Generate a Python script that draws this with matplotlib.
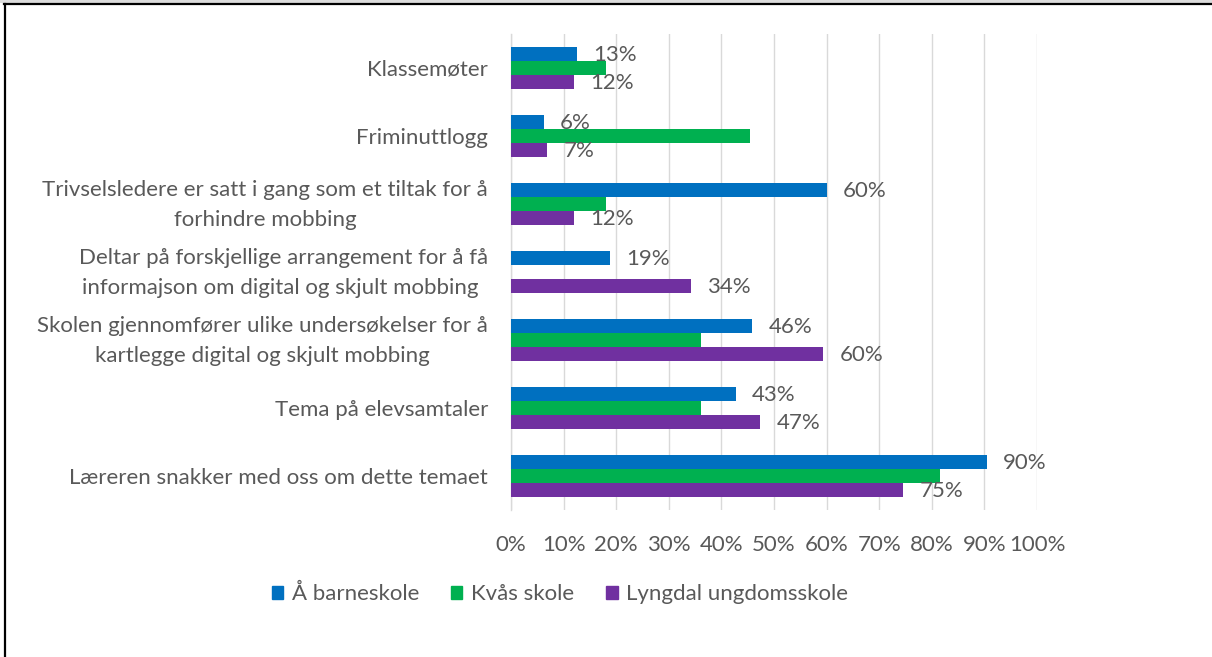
import matplotlib
matplotlib.use("Agg")
import matplotlib.pyplot as plt
from matplotlib.lines import Line2D
from matplotlib.patches import Rectangle
import numpy as np

categories = [
    "Klassemøter",
    "Friminuttlogg",
    "Trivselsledere er satt i gang som et tiltak for å\nforhindre mobbing",
    "Deltar på forskjellige arrangement for å få\ninformajson om digital og skjult mobbing ",
    "Skolen gjennomfører ulike undersøkelser for å\nkartlegge digital og skjult mobbing",
    "Tema på elevsamtaler",
    "Læreren snakker med oss om dette temaet",
]
series_names = ["Å barneskole", "Kvås skole", "Lyngdal ungdomsskole"]
aa_barneskole = [0.125, 0.062, 0.601, 0.188, 0.459, 0.427, 0.905]
kvaas_skole = [0.181, 0.454, 0.181, 0.0, 0.361, 0.361, 0.816]
lyngdal = [0.12, 0.069, 0.12, 0.342, 0.594, 0.474, 0.746]
aa_labels = ["13%", "6%", "60%", "19%", "46%", "43%", "90%"]
lyngdal_labels = ["12%", "7%", "12%", "34%", "60%", "47%", "75%"]
xticks = [0, 0.1, 0.2, 0.3, 0.4, 0.5, 0.6, 0.7, 0.8, 0.9, 1.0]
xtick_labels = ["0%", "10%", "20%", "30%", "40%", "50%", "60%", "70%", "80%", "90%", "100%"]

colors = ["#0070C0", "#00B050", "#7030A0"]
text_color = "#595959"
FONT = "Lato"
plt.rcParams['font.family'] = [FONT, 'DejaVu Sans']
FS = 16

W, H = 1212, 657
fig = plt.figure(figsize=(W / 100, H / 100), dpi=100)
ax = fig.add_axes([511 / W, 1 - 510 / H, (1037 - 511) / W, (510 - 34) / H])

y = np.arange(len(categories))
bh = 14 / 68
for vals, off, c in zip([aa_barneskole, kvaas_skole, lyngdal], [-bh, 0, bh], colors):
    ax.barh(y + off, vals, height=bh, color=c, zorder=3)

ax.set_xlim(0, 1.0)
ax.set_ylim(len(categories) - 0.5, -0.5)
ax.set_xticks(xticks)
ax.set_xticklabels(xtick_labels, fontsize=FS, color=text_color)
ax.set_yticks(y)
ax.set_yticklabels([])
ax.tick_params(axis="y", length=0)
ax.tick_params(axis="x", length=0, pad=18)
ax.grid(axis="x", color="#D9D9D9", linewidth=1, zorder=0)
for s in ["top", "right", "bottom"]:
    ax.spines[s].set_visible(False)
ax.spines["left"].set_color("#D9D9D9")
ax.spines["left"].set_linewidth(1)

# category labels
for yi, cat in zip(y, categories):
    multi = "\n" in cat
    ax.annotate(cat, xy=(0, yi), xycoords=("axes fraction", "data"),
                xytext=(-23, -1 if multi else 0), textcoords="offset pixels",
                ha="right", va="center" if multi else "center_baseline",
                multialignment="center", linespacing=1.6,
                fontsize=FS, color=text_color)

off_px = 16 / 526
for i in range(len(categories)):
    ax.text(aa_barneskole[i] + off_px, y[i] - bh * 0.9, aa_labels[i], va="center", ha="left",
            fontsize=FS, color=text_color, zorder=4)
    ax.text(lyngdal[i] + off_px, y[i] + bh * 1.05, lyngdal_labels[i], va="center", ha="left",
            fontsize=FS, color=text_color, zorder=4)

handles = [Rectangle((0, 0), 1, 1, color=c) for c in colors]
fig.legend(handles, series_names, loc="center", bbox_to_anchor=(560 / W, 1 - 594 / H),
           ncol=3, frameon=False, fontsize=FS, handlelength=0.5, handleheight=0.5,
           handletextpad=0.4, columnspacing=1.45, labelcolor=text_color)

# outer frame
fig.add_artist(Rectangle((0, 1 - 3 / H), 1, 3 / H, transform=fig.transFigure,
                         color="#DCDCDC", lw=0))
fig.add_artist(Line2D([4 / W, 1], [1 - 4 / H, 1 - 4 / H], transform=fig.transFigure,
                      color="black", lw=1.6))
fig.add_artist(Line2D([5 / W, 5 / W], [0, 1 - 4 / H], transform=fig.transFigure,
                      color="black", lw=1.6))

fig.savefig("out.png", dpi=100)
